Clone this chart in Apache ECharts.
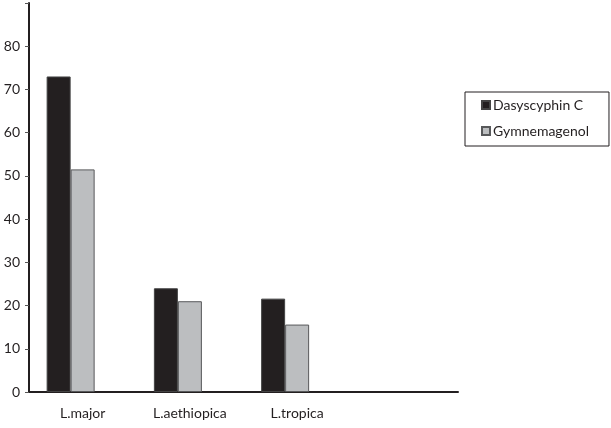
<!DOCTYPE html>
<html>
<head>
<meta charset="utf-8">
<script src="https://cdn.jsdelivr.net/npm/echarts@6/dist/echarts.min.js"></script>
<style>
  html, body { margin: 0; padding: 0; background: #fff; }
  #chart { width: 611px; height: 428px; }
</style>
</head>
<body>
<div id="chart"></div>
<script>
// categories (the 4th slot is empty in the original)
const categories = ['L.major', 'L.aethiopica', 'L.tropica', '']
const dasyscyphin = [73, 24, 21.6, null]
const gymnemagenol = [51.5, 21, 15.6, null]
// empty third series, keeps the bars shifted left like the original
const emptySeries = [null, null, null, null]

const ink = '#231f20'
const font = 'Lato'

const chart = echarts.init(document.getElementById('chart'))

chart.setOption({
  animation: false,
  textStyle: { fontFamily: font },
  grid: { left: 29, right: 153, top: 3, bottom: 36 },
  legend: {
    orient: 'vertical',
    left: 465,
    top: 92,
    data: ['Dasyscyphin C', 'Gymnemagenol'],
    icon: 'rect',
    itemWidth: 8,
    itemHeight: 8,
    itemGap: 10,
    borderColor: ink,
    borderWidth: 1,
    padding: [5, 20, 7, 16],
    textStyle: { fontFamily: font, fontSize: 14, color: ink, lineHeight: 16, padding: [0, 0, 0, -2] }
  },
  xAxis: {
    type: 'category',
    data: categories,
    axisLine: { lineStyle: { color: ink, width: 2 } },
    axisTick: { length: 4, lineStyle: { color: '#555', width: 1 } },
    axisLabel: { fontFamily: font, fontSize: 14, color: ink, margin: 14 }
  },
  yAxis: {
    type: 'value',
    min: 0,
    max: 90,
    interval: 10,
    splitLine: { show: false },
    axisLine: { show: true, lineStyle: { color: ink, width: 2 } },
    axisTick: { show: true, length: 4, lineStyle: { color: '#555', width: 1 } },
    axisLabel: {
      fontFamily: font, fontSize: 14, color: ink, margin: 9,
      formatter: v => (v === 90 ? '' : v)
    }
  },
  series: [
    {
      name: 'Dasyscyphin C',
      type: 'bar',
      data: dasyscyphin,
      barWidth: 24,
      barGap: 0,
      itemStyle: { color: ink, borderColor: '#444', borderWidth: 1 }
    },
    {
      name: 'Gymnemagenol',
      type: 'bar',
      data: gymnemagenol,
      barWidth: 24,
      barGap: 0,
      itemStyle: { color: '#bcbec0', borderColor: '#58595b', borderWidth: 1 }
    },
    {
      name: 'empty',
      type: 'bar',
      data: emptySeries,
      barWidth: 24,
      barGap: 0
    }
  ]
})
</script>
</body>
</html>
